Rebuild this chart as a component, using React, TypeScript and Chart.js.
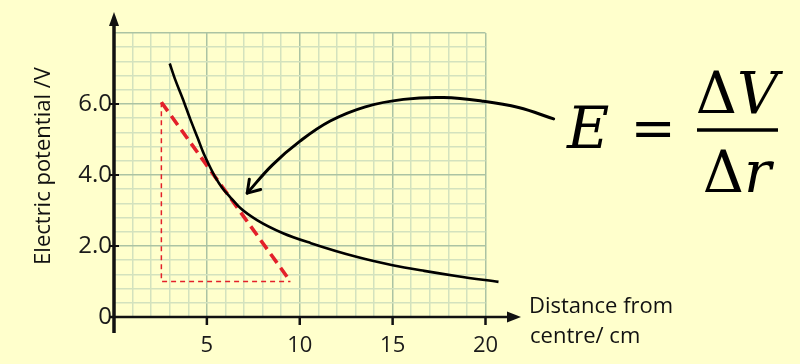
import { useEffect, useRef } from "react";
import { Chart, registerables } from "chart.js";

Chart.register(...registerables);

// Potential curve (distance in cm, potential in V)
const distance = [3.0, 3.3, 3.7, 4.1, 4.5, 4.8, 5.1, 5.45, 5.85, 6.25, 6.8, 7.7, 9.1, 10.6, 13.1, 15.0, 16.7, 18.5, 20.7];
const potential = [7.14, 6.68, 6.15, 5.58, 5.05, 4.64, 4.3, 3.94, 3.62, 3.38, 3.07, 2.73, 2.36, 2.08, 1.69, 1.46, 1.3, 1.15, 0.99];

// Tangent (gradient) line and its triangle legs
const tangentX = [2.55, 9.5];
const tangentY = [6.05, 1.0];
const legX = [2.55, 2.55, 9.5];
const legY = [6.05, 1.0, 1.0];

// Curved pointer arrow (from the equation to the tangent point)
const arrowX = [23.67, 21.78, 19.84, 17.74, 15.58, 13.53, 11.64, 10.03, 8.52, 7.17];
const arrowY = [5.58, 5.9, 6.08, 6.18, 6.13, 5.92, 5.52, 4.96, 4.28, 3.49];

// Tick labels
const xTickLabels = [5, 10, 15, 20];
const yTickLabels = [0, 2, 4, 6];

const yTitle = "Electric potential /V";
const xTitleLines = ["Distance from", "centre/ cm"];

const BG = "#FFFFCC";
const MINOR = "#D3E2BE";
const MAJOR = "#ABC3A3";
const RED = "#E3202A";
const INK = "#111111";
const SANS = '"Open Sans", "Noto Sans", sans-serif';
const SERIF = '"DejaVu Serif", serif';

const toPts = (xs: number[], ys: number[]) => xs.map((x, i) => ({ x, y: ys[i] }));
const near = (v: number, list: number[]) => list.some((t) => Math.abs(v - t) < 1e-6);

type Run = { text: string; italic?: boolean };

function drawRuns(ctx: CanvasRenderingContext2D, runs: Run[], cx: number, baseline: number, size: number) {
  const fonts = runs.map((r) => `${r.italic ? "italic " : ""}${size}px ${SERIF}`);
  const widths = runs.map((r, i) => {
    ctx.font = fonts[i];
    return ctx.measureText(r.text).width;
  });
  const total = widths.reduce((a, b) => a + b, 0);
  let x = cx - total / 2;
  ctx.textAlign = "left";
  ctx.textBaseline = "alphabetic";
  runs.forEach((r, i) => {
    ctx.font = fonts[i];
    ctx.fillText(r.text, x, baseline);
    x += widths[i];
  });
}

const decor = {
  id: "decor",
  beforeDraw(chart: any) {
    const ctx = chart.ctx as CanvasRenderingContext2D;
    ctx.save();
    ctx.fillStyle = BG;
    ctx.fillRect(0, 0, chart.width, chart.height);
    ctx.restore();
  },
  afterDatasetsDraw(chart: any) {
    const ctx = chart.ctx as CanvasRenderingContext2D;
    const xs = chart.scales.x;
    const ys = chart.scales.y;
    const ox = xs.getPixelForValue(0);
    const oy = ys.getPixelForValue(0);
    ctx.save();

    // arrowhead of the curved pointer
    const meta = chart.getDatasetMeta(3);
    const pts = meta.data;
    const tip = pts[pts.length - 1];
    const ref =
      tip.cp1x !== undefined && Math.hypot(tip.cp1x - tip.x, tip.cp1y - tip.y) > 1
        ? { x: tip.cp1x, y: tip.cp1y }
        : pts[pts.length - 2];
    let bx = ref.x - tip.x;
    let by = ref.y - tip.y;
    const bl = Math.hypot(bx, by) || 1;
    bx /= bl;
    by /= bl;
    const wing = 14;
    const ang = (33 * Math.PI) / 180;
    const rot = (a: number) => ({
      x: tip.x + wing * (bx * Math.cos(a) - by * Math.sin(a)),
      y: tip.y + wing * (bx * Math.sin(a) + by * Math.cos(a)),
    });
    const w1 = rot(ang);
    const w2 = rot(-ang);
    ctx.strokeStyle = "#000";
    ctx.lineWidth = 3;
    ctx.lineCap = "round";
    ctx.lineJoin = "round";
    ctx.beginPath();
    ctx.moveTo(w1.x, w1.y);
    ctx.lineTo(tip.x, tip.y);
    ctx.lineTo(w2.x, w2.y);
    ctx.stroke();

    // axes
    ctx.lineCap = "butt";
    ctx.strokeStyle = INK;
    ctx.fillStyle = INK;
    // y axis
    ctx.lineWidth = 3.5;
    ctx.beginPath();
    ctx.moveTo(ox, oy + 16);
    ctx.lineTo(ox, 24);
    ctx.stroke();
    ctx.beginPath();
    ctx.moveTo(ox, 12);
    ctx.lineTo(ox - 5, 26);
    ctx.lineTo(ox + 5, 26);
    ctx.closePath();
    ctx.fill();
    // x axis
    ctx.lineWidth = 2.5;
    ctx.beginPath();
    ctx.moveTo(ox - 4, oy);
    ctx.lineTo(510, oy);
    ctx.stroke();
    ctx.beginPath();
    ctx.moveTo(521, oy);
    ctx.lineTo(507, oy - 5.5);
    ctx.lineTo(507, oy + 5.5);
    ctx.closePath();
    ctx.fill();

    // tick marks
    ctx.lineWidth = 2.5;
    xTickLabels.forEach((v) => {
      const px = xs.getPixelForValue(v);
      ctx.beginPath();
      ctx.moveTo(px, oy);
      ctx.lineTo(px, oy + 8);
      ctx.stroke();
    });
    ctx.lineWidth = 2;
    yTickLabels.forEach((v) => {
      if (v === 0) return;
      const py = ys.getPixelForValue(v);
      ctx.beginPath();
      ctx.moveTo(ox - 5, py);
      ctx.lineTo(ox + 5, py);
      ctx.stroke();
    });

    // axis titles
    ctx.fillStyle = INK;
    ctx.font = `22px ${SANS}`;
    ctx.save();
    ctx.translate(44, 166);
    ctx.rotate(-Math.PI / 2);
    ctx.textAlign = "center";
    ctx.textBaseline = "middle";
    ctx.fillText(yTitle, 0, 0);
    ctx.restore();
    ctx.textAlign = "left";
    ctx.textBaseline = "alphabetic";
    ctx.fillText(xTitleLines[0], 529, 313);
    ctx.fillText(xTitleLines[1], 530, 343);

    // equation E = ΔV / Δr
    ctx.fillStyle = "#000";
    ctx.font = `italic 58px ${SERIF}`;
    ctx.textAlign = "left";
    ctx.fillText("E", 567, 148);
    ctx.font = `54px ${SERIF}`;
    ctx.textAlign = "center";
    ctx.fillText("=", 653, 147);
    ctx.lineWidth = 3.5;
    ctx.strokeStyle = "#000";
    ctx.beginPath();
    ctx.moveTo(697, 130);
    ctx.lineTo(778, 130);
    ctx.stroke();
    drawRuns(ctx, [{ text: "\u0394" }, { text: "V", italic: true }], 737, 113, 57);
    drawRuns(ctx, [{ text: "\u0394" }, { text: "r", italic: true }], 737, 192, 57);

    ctx.restore();
  },
};

export default function App() {
  const canvasRef = useRef<HTMLCanvasElement>(null);

  useEffect(() => {
    if (!canvasRef.current) return;
    Chart.defaults.font.family = SANS;
    const chart = new Chart(canvasRef.current, {
      type: "line",
      data: {
        datasets: [
          {
            data: toPts(distance, potential),
            borderColor: "#000",
            borderWidth: 2.6,
            pointRadius: 0,
            cubicInterpolationMode: "monotone",
            fill: false,
            clip: false,
          },
          {
            data: toPts(tangentX, tangentY),
            borderColor: RED,
            borderWidth: 3.6,
            borderDash: [11, 6],
            pointRadius: 0,
            tension: 0,
            fill: false,
          },
          {
            data: toPts(legX, legY),
            borderColor: RED,
            borderWidth: 1.5,
            borderDash: [5, 4],
            pointRadius: 0,
            tension: 0,
            fill: false,
          },
          {
            data: toPts(arrowX, arrowY),
            borderColor: "#000",
            borderWidth: 3,
            borderCapStyle: "round",
            pointRadius: 0,
            tension: 0.4,
            fill: false,
            clip: false,
          },
        ],
      } as any,
      options: {
        animation: false,
        responsive: false,
        events: [],
        layout: { padding: { top: 33, right: 314.5, left: 0, bottom: 0 } },
        plugins: { legend: { display: false }, tooltip: { enabled: false }, title: { display: false } },
        scales: {
          x: {
            type: "linear",
            min: 0,
            max: 20,
            afterFit: (s: any) => {
              s.height = 47;
            },
            border: { display: false },
            grid: {
              drawTicks: false,
              lineWidth: 1.5,
              color: (c: any) => (c.tick && Math.abs(c.tick.value % 5) < 1e-6 ? MAJOR : MINOR),
            },
            ticks: {
              stepSize: 1,
              autoSkip: false,
              maxRotation: 0,
              padding: 16,
              color: "#1a1a1a",
              font: { family: SANS, size: 22 },
              callback: (v: any) => (near(Number(v), xTickLabels) ? String(v) : ""),
            },
          },
          y: {
            type: "linear",
            min: 0,
            max: 8,
            afterFit: (s: any) => {
              s.width = 114;
            },
            border: { display: false },
            grid: {
              drawTicks: false,
              lineWidth: 1.5,
              color: (c: any) => {
                const v = c.tick ? c.tick.value : 1;
                return Math.abs(v / 2 - Math.round(v / 2)) < 1e-6 ? MAJOR : MINOR;
              },
            },
            ticks: {
              stepSize: 0.4,
              autoSkip: false,
              padding: 2,
              color: "#1a1a1a",
              font: { family: SANS, size: 24 },
              callback: (v: any) => {
                const n = Number(v);
                if (!near(n, yTickLabels)) return "";
                return n === 0 ? "0" : n.toFixed(1);
              },
            },
          },
        },
      } as any,
      plugins: [decor],
    });
    return () => chart.destroy();
  }, []);

  return (
    <div style={{ position: "fixed", left: 0, top: 0, width: 800, height: 364, background: BG }}>
      <canvas ref={canvasRef} width={800} height={364} style={{ display: "block", width: 800, height: 364 }} />
    </div>
  );
}
